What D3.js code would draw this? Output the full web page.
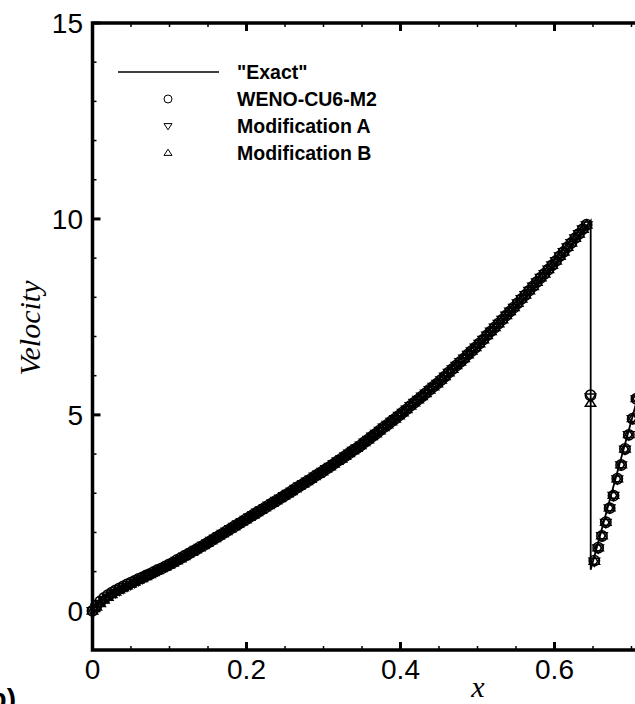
<!DOCTYPE html>
<html>
<head>
<meta charset="utf-8">
<script src="https://cdn.jsdelivr.net/npm/d3@7"></script>
<style>
  html, body { margin: 0; padding: 0; background: #fff; }
  svg { display: block; }
</style>
</head>
<body>
<svg id="chart" width="635" height="704"></svg>
<script>
// Grid spacing of the numerical solution
const DX = 0.004975;

// WENO-CU6-M2 velocity at cells i*DX, i = 0..142
const wenoV = [
  0.00, 0.14, 0.24, 0.33, 0.40, 0.46, 0.52, 0.57, 0.62, 0.67,
  0.72, 0.76, 0.81, 0.85, 0.90, 0.94, 0.99, 1.04, 1.08, 1.13,
  1.18, 1.23, 1.29, 1.34, 1.40, 1.45, 1.51, 1.56, 1.62, 1.67,
  1.73, 1.79, 1.85, 1.91, 1.97, 2.03, 2.09, 2.15, 2.21, 2.27,
  2.33, 2.39, 2.45, 2.51, 2.57, 2.63, 2.69, 2.75, 2.81, 2.87,
  2.93, 2.99, 3.05, 3.12, 3.18, 3.24, 3.30, 3.36, 3.43, 3.49,
  3.55, 3.62, 3.68, 3.75, 3.82, 3.88, 3.95, 4.02, 4.09, 4.15,
  4.22, 4.30, 4.37, 4.45, 4.52, 4.60, 4.68, 4.75, 4.83, 4.90,
  4.98, 5.06, 5.14, 5.23, 5.31, 5.39, 5.47, 5.55, 5.64, 5.72,
  5.80, 5.89, 5.98, 6.08, 6.17, 6.26, 6.35, 6.44, 6.54, 6.63,
  6.72, 6.82, 6.92, 7.03, 7.13, 7.23, 7.33, 7.43, 7.54, 7.64,
  7.74, 7.85, 7.96, 8.06, 8.17, 8.28, 8.39, 8.50, 8.60, 8.71,
  8.82, 8.93, 9.05, 9.16, 9.28, 9.39, 9.51, 9.62, 9.74, 9.85,
  5.50, 1.28, 1.61, 1.91, 2.26, 2.62, 2.94, 3.37, 3.72, 4.13,
  4.49, 4.90, 5.41
];

// Modification A velocity
const modAV = [
  0.00, 0.08, 0.17, 0.26, 0.33, 0.40, 0.46, 0.52, 0.57, 0.62,
  0.67, 0.72, 0.77, 0.82, 0.87, 0.92, 0.97, 1.02, 1.07, 1.12,
  1.17, 1.22, 1.28, 1.33, 1.39, 1.44, 1.50, 1.56, 1.61, 1.67,
  1.73, 1.79, 1.85, 1.91, 1.97, 2.03, 2.09, 2.15, 2.21, 2.27,
  2.33, 2.39, 2.45, 2.51, 2.57, 2.63, 2.69, 2.75, 2.81, 2.87,
  2.93, 2.99, 3.05, 3.12, 3.18, 3.24, 3.30, 3.36, 3.43, 3.49,
  3.55, 3.62, 3.68, 3.75, 3.82, 3.88, 3.95, 4.02, 4.09, 4.15,
  4.22, 4.30, 4.37, 4.45, 4.52, 4.60, 4.68, 4.75, 4.83, 4.90,
  4.98, 5.06, 5.14, 5.23, 5.31, 5.39, 5.47, 5.55, 5.64, 5.72,
  5.80, 5.89, 5.98, 6.08, 6.17, 6.26, 6.35, 6.44, 6.54, 6.63,
  6.72, 6.82, 6.92, 7.03, 7.13, 7.23, 7.33, 7.43, 7.54, 7.64,
  7.74, 7.85, 7.96, 8.06, 8.17, 8.28, 8.39, 8.50, 8.60, 8.71,
  8.82, 8.93, 9.05, 9.16, 9.28, 9.39, 9.51, 9.62, 9.74, 9.84,
  5.45, 1.26, 1.60, 1.91, 2.25, 2.62, 2.94, 3.36, 3.72, 4.12,
  4.49, 4.90, 5.40
];

// Modification B velocity
const modBV = [
  0.00, 0.10, 0.19, 0.28, 0.35, 0.42, 0.48, 0.54, 0.59, 0.64,
  0.69, 0.74, 0.79, 0.83, 0.88, 0.93, 0.98, 1.03, 1.08, 1.12,
  1.17, 1.22, 1.28, 1.33, 1.39, 1.45, 1.50, 1.56, 1.61, 1.67,
  1.73, 1.79, 1.85, 1.91, 1.97, 2.03, 2.09, 2.15, 2.21, 2.27,
  2.33, 2.39, 2.45, 2.51, 2.57, 2.63, 2.69, 2.75, 2.81, 2.87,
  2.93, 2.99, 3.05, 3.12, 3.18, 3.24, 3.30, 3.36, 3.43, 3.49,
  3.55, 3.62, 3.68, 3.75, 3.82, 3.88, 3.95, 4.02, 4.09, 4.15,
  4.22, 4.30, 4.37, 4.45, 4.52, 4.60, 4.68, 4.75, 4.83, 4.90,
  4.98, 5.06, 5.14, 5.23, 5.31, 5.39, 5.47, 5.55, 5.64, 5.72,
  5.80, 5.89, 5.98, 6.08, 6.17, 6.26, 6.35, 6.44, 6.54, 6.63,
  6.72, 6.82, 6.92, 7.03, 7.13, 7.23, 7.33, 7.43, 7.54, 7.64,
  7.74, 7.85, 7.96, 8.06, 8.17, 8.28, 8.39, 8.50, 8.60, 8.71,
  8.82, 8.93, 9.05, 9.16, 9.28, 9.39, 9.51, 9.62, 9.74, 9.85,
  5.30, 1.27, 1.61, 1.92, 2.26, 2.63, 2.95, 3.37, 3.73, 4.13,
  4.50, 4.91, 5.42
];

// Reference ("Exact") solution as a polyline, with the shock at x = 0.647
const exactX = [0, 0.005, 0.01, 0.02, 0.03, 0.05, 0.07, 0.10, 0.15, 0.20, 0.25, 0.30,
                0.35, 0.40, 0.45, 0.50, 0.55, 0.60, 0.647, 0.647, 0.72];
const exactV = [0, 0.14, 0.24, 0.40, 0.52, 0.72, 0.90, 1.18, 1.73, 2.33, 2.93, 3.55,
                4.22, 4.98, 5.80, 6.72, 7.74, 8.82, 9.95, 1.05, 6.30];

const xTicks = [0, 0.2, 0.4, 0.6];
const yTicks = [0, 5, 10, 15];
const legendLabels = ['"Exact"', 'WENO-CU6-M2', 'Modification A', 'Modification B'];

const svg = d3.select("#chart");
const plotL = 92.5, plotR = 862.5, plotT = 23, plotB = 650;

const x = d3.scaleLinear().domain([0, 1]).range([plotL, plotR]);
const y = d3.scaleLinear().domain([-1, 15]).range([plotB, plotT]);

const FONT = "'Liberation Sans', Arial, sans-serif";
const SERIF = "'Liberation Serif', 'Times New Roman', serif";

// Plot content
const plot = svg.append("g");

const line = d3.line().x(d => x(d[0])).y(d => y(d[1]));
plot.append("path")
  .datum(exactX.map((v, i) => [v, exactV[i]]))
  .attr("d", line)
  .attr("fill", "none")
  .attr("stroke", "#000")
  .attr("stroke-width", 1.8);

function triDown(r) { return `M${-r},${-r * 0.6}L${r},${-r * 0.6}L0,${r * 0.95}Z`; }
function triUp(r) { return `M${-r},${r * 0.6}L${r},${r * 0.6}L0,${-r * 0.95}Z`; }

const RM = 5.2;  // marker size in the plot
const RL = 4;    // marker size in the legend
const SW = 1.5;  // marker outline width in the plot

function markers(values, kind) {
  const g = plot.append("g");
  const pts = g.selectAll("g").data(values).join("g")
    .attr("transform", (d, i) => `translate(${x(i * DX)},${y(d)})`);
  if (kind === "circle") {
    pts.append("circle").attr("r", RM).attr("fill", "none")
      .attr("stroke", "#000").attr("stroke-width", SW);
  } else {
    pts.append("path").attr("d", kind === "down" ? triDown(RM) : triUp(RM))
      .attr("fill", "none").attr("stroke", "#000").attr("stroke-width", SW);
  }
}
markers(wenoV, "circle");
markers(modAV, "down");
markers(modBV, "up");

// Axes
const axisG = svg.append("g");
const minorX = d3.range(0, 1.0001, 0.05);
const minorY = d3.range(-1, 15.0001, 1);
const isMajorX = d => xTicks.concat([0.8, 1]).some(t => Math.abs(t - d) < 1e-9);

// bottom axis ticks (inward)
axisG.selectAll(".xb").data(minorX).join("line").attr("class", "xb")
  .attr("x1", d => x(d)).attr("x2", d => x(d))
  .attr("y1", plotB).attr("y2", d => plotB - (isMajorX(d) ? 8 : 4))
  .attr("stroke", "#000")
  .attr("stroke-width", d => isMajorX(d) ? 3 : 1.5);
// top axis ticks
axisG.selectAll(".xt").data(minorX).join("line").attr("class", "xt")
  .attr("x1", d => x(d)).attr("x2", d => x(d))
  .attr("y1", plotT).attr("y2", d => plotT + (isMajorX(d) ? 8 : 4))
  .attr("stroke", "#000")
  .attr("stroke-width", d => isMajorX(d) ? 3 : 1.5);
// left axis ticks
axisG.selectAll(".yl").data(minorY).join("line").attr("class", "yl")
  .attr("y1", d => y(d)).attr("y2", d => y(d))
  .attr("x1", plotL).attr("x2", d => plotL + (yTicks.includes(d) ? 8 : 4))
  .attr("stroke", "#000")
  .attr("stroke-width", d => yTicks.includes(d) ? 3 : 1.5);

// frame
axisG.append("rect")
  .attr("x", plotL).attr("y", plotT)
  .attr("width", plotR - plotL).attr("height", plotB - plotT)
  .attr("fill", "none").attr("stroke", "#000").attr("stroke-width", 3.5);

// tick labels
axisG.selectAll(".xl").data(xTicks).join("text").attr("class", "xl")
  .attr("x", d => x(d)).attr("y", 679)
  .attr("text-anchor", "middle")
  .attr("font-family", FONT).attr("font-size", 28)
  .text(d => d3.format("~g")(d));
axisG.selectAll(".ylab").data(yTicks).join("text").attr("class", "ylab")
  .attr("x", 83).attr("y", d => y(d))
  .attr("dy", "0.35em")
  .attr("text-anchor", "end")
  .attr("font-family", FONT).attr("font-size", 28)
  .text(d => d);

// axis titles
svg.append("text")
  .attr("x", 478).attr("y", 697)
  .attr("text-anchor", "middle")
  .attr("font-family", SERIF).attr("font-style", "italic").attr("font-size", 30)
  .text("x");
svg.append("text")
  .attr("transform", "translate(40,328) rotate(-90)")
  .attr("text-anchor", "middle")
  .attr("font-family", SERIF).attr("font-style", "italic").attr("font-size", 30)
  .text("Velocity");

// panel label
svg.append("text")
  .attr("x", 16).attr("y", 708)
  .attr("text-anchor", "end")
  .attr("font-family", FONT).attr("font-weight", "bold").attr("font-size", 28)
  .text("(b)");

// legend
const leg = svg.append("g");
const rowsY = [72, 99, 126, 153];
leg.append("line")
  .attr("x1", 118).attr("x2", 219).attr("y1", rowsY[0]).attr("y2", rowsY[0])
  .attr("stroke", "#000").attr("stroke-width", 1.6);
leg.append("circle").attr("cx", 168).attr("cy", rowsY[1]).attr("r", RL)
  .attr("fill", "none").attr("stroke", "#000").attr("stroke-width", 1);
leg.append("path").attr("d", triDown(RL)).attr("transform", `translate(168,${rowsY[2]})`)
  .attr("fill", "none").attr("stroke", "#000").attr("stroke-width", 1);
leg.append("path").attr("d", triUp(RL)).attr("transform", `translate(168,${rowsY[3]})`)
  .attr("fill", "none").attr("stroke", "#000").attr("stroke-width", 1);
leg.selectAll(".lt").data(legendLabels).join("text").attr("class", "lt")
  .attr("x", 237).attr("y", (d, i) => rowsY[i])
  .attr("dy", "0.36em")
  .attr("font-family", FONT).attr("font-weight", "bold").attr("font-size", 19.5)
  .text(d => d);
</script>
</body>
</html>
